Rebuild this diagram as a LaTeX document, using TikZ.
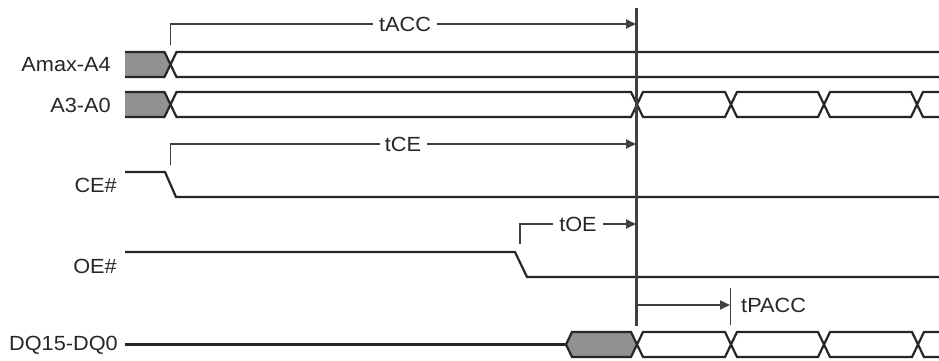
\documentclass[tikz,border=0pt]{standalone}
\usepackage{fontspec}
\setmainfont{Liberation Sans}[FakeStretch=1.06]
\usetikzlibrary{arrows.meta}
\definecolor{sig}{HTML}{262626}
\definecolor{meas}{HTML}{404040}
\definecolor{busgrey}{HTML}{8F9193}
\tikzset{
  wave/.style={draw=sig, line width=2.2pt, line join=miter},
  busfill/.style={fill=busgrey, draw=none},
  measline/.style={draw=meas, line width=1.8pt},
  measarrow/.style={measline, -{Triangle[length=10pt,width=9pt]}},
  siglabel/.style={anchor=east, font=\fontsize{20.5}{22}\selectfont, text=sig, inner sep=0pt},
  tlabel/.style={fill=white, font=\fontsize{20.5}{22}\selectfont, text=sig, inner sep=0pt, minimum width=0pt},
}
\begin{document}
\begin{tikzpicture}[x=1pt,y=-1pt]
\useasboundingbox (0,0) rectangle (939,360);

% ---------- labels ----------
\node[siglabel] (lAmax) at (111,65) {Amax-A4};
\node[siglabel] (lA3) at (111,105) {A3-A0};
\node[siglabel] (lCE) at (117,185) {CE\#};
\node[siglabel] (lOE) at (117,266) {OE\#};
\node[siglabel] (lDQ) at (118,345) {DQ15-DQ0};

% ---------- Amax-A4 bus ----------
\fill[busgrey] (125,52) -- (164.5,52) -- (170.5,64.5) -- (164.5,77) -- (125,77) -- cycle;
\draw[wave] (125,52) -- (164.5,52) -- (176.5,77) -- (939,77);
\draw[wave] (125,77) -- (164.5,77) -- (176.5,52) -- (939,52);

% ---------- A3-A0 bus ----------
\fill[busgrey] (125,92) -- (164.5,92) -- (170.5,104.5) -- (164.5,117) -- (125,117) -- cycle;
\draw[wave] (125,92) -- (164.5,92) -- (176.5,117) -- (631,117) -- (643,92) -- (725,92) -- (737,117) -- (818,117) -- (830,92) -- (911,92) -- (923,117) -- (939,117);
\draw[wave] (125,117) -- (164.5,117) -- (176.5,92) -- (631,92) -- (643,117) -- (725,117) -- (737,92) -- (818,92) -- (830,117) -- (911,117) -- (923,92) -- (939,92);

% ---------- CE# ----------
\draw[wave] (125,172) -- (165,172) -- (176,197) -- (939,197);

% ---------- OE# ----------
\draw[wave] (125,252) -- (515,252) -- (527,277) -- (939,277);

% ---------- DQ15-DQ0 ----------
\fill[busgrey] (566,344.5) -- (572,332) -- (631,332) -- (637,344.5) -- (631,357) -- (572,357) -- cycle;
\draw[wave] (125,344.5) -- (566,344.5);
\draw[wave] (566,344.5) -- (572,332) -- (631,332) -- (643,357) -- (725,357) -- (737,332) -- (818,332) -- (830,357) -- (912,357) -- (924,332) -- (939,332);
\draw[wave] (566,344.5) -- (572,357) -- (631,357) -- (643,332) -- (725,332) -- (737,357) -- (818,357) -- (830,332) -- (912,332) -- (924,357) -- (939,357);

% ---------- reference vertical line ----------
\coordinate (vtop) at (636.5,8);
\coordinate (vbot) at (636.5,326);
\draw[measline, line width=2.3pt] (vtop) -- (vbot);

% ---------- tACC ----------
\coordinate (accA) at (170.5,45);
\coordinate (accB) at (170.5,24);
\coordinate (accE) at (636,24);
\draw[measarrow] (accA) -- (accB) -- (accE);
\node[tlabel, minimum width=64pt, minimum height=18pt] (tACC) at (405,24) {tACC};

% ---------- tCE ----------
\coordinate (ceA) at (170.5,165);
\coordinate (ceB) at (170.5,144);
\coordinate (ceE) at (636,144);
\draw[measarrow] (ceA) -- (ceB) -- (ceE);
\node[tlabel, minimum width=47pt, minimum height=18pt] (tCE) at (403,144) {tCE};

% ---------- tOE ----------
\coordinate (oeA) at (520,244);
\coordinate (oeB) at (520,224);
\coordinate (oeE) at (636,224);
\draw[measarrow] (oeA) -- (oeB) -- (oeE);
\node[tlabel, minimum width=50pt, minimum height=18pt] (tOE) at (578,224) {tOE};

% ---------- tPACC ----------
\coordinate (paS) at (637,305);
\coordinate (paE) at (730,305);
\coordinate (tkT) at (730.5,288);
\coordinate (tkB) at (730.5,325);
\draw[measarrow] (paS) -- (paE);
\draw[measline] (tkT) -- (tkB);
\node[anchor=west, font=\fontsize{20.5}{22}\selectfont, text=sig, inner sep=0pt] (tPACC) at (741,305) {tPACC};
\end{tikzpicture}
\end{document}
